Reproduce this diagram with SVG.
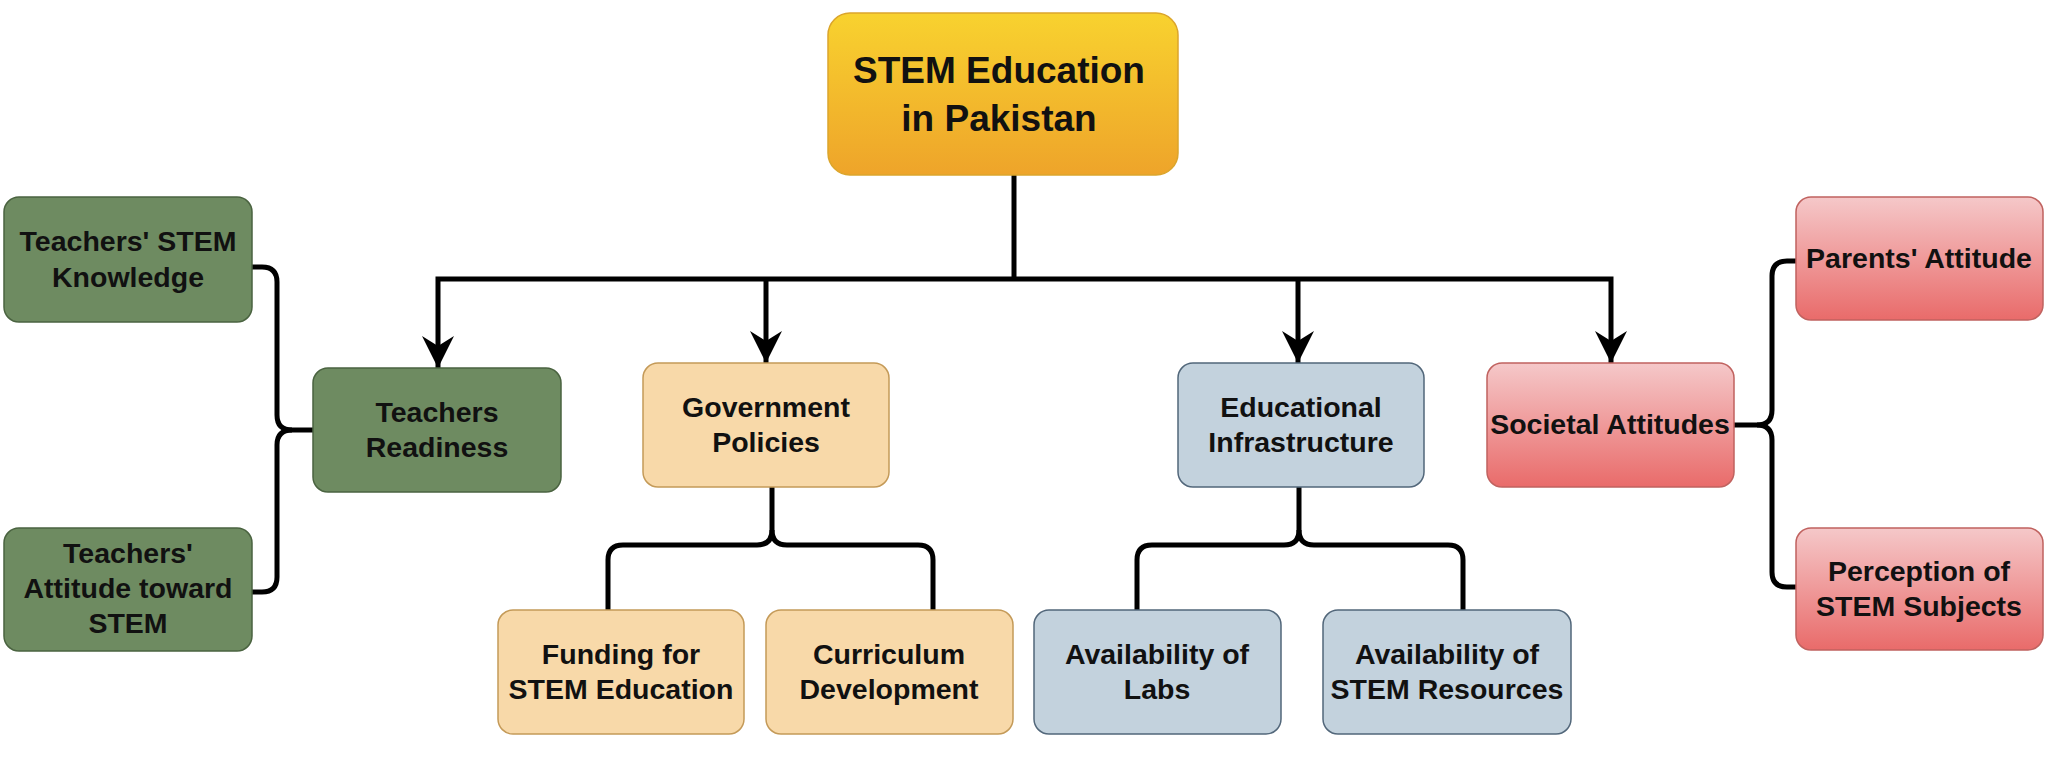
<svg xmlns="http://www.w3.org/2000/svg" width="2050" height="757" viewBox="0 0 2050 757">
<defs>
<linearGradient id="gYellow" x1="0" y1="0" x2="0" y2="1">
<stop offset="0" stop-color="#f8d22f"/>
<stop offset="1" stop-color="#eea42a"/>
</linearGradient>
<linearGradient id="gRed" x1="0" y1="0" x2="0" y2="1">
<stop offset="0" stop-color="#f5c8c9"/>
<stop offset="1" stop-color="#e96b6a"/>
</linearGradient>
<marker id="arr" markerUnits="userSpaceOnUse" markerWidth="36" markerHeight="36" viewBox="-34 -18 36 36" refX="0" refY="0" orient="auto">
<path d="M0 0 L-32 -16 L-22 0 L-32 16 Z" fill="#000"/>
</marker>
</defs>
<style>
.box{stroke-width:1.5}
.green{fill:#6e8b61;stroke:#4a6340}
.tan{fill:#f8d9a9;stroke:#c49a58}
.blue{fill:#c3d2dd;stroke:#52677a}
.red{fill:url(#gRed);stroke:#c0625f}
.yellow{fill:url(#gYellow);stroke:#dba52c}
text{font-family:"Liberation Sans",Arial,Helvetica,sans-serif;font-weight:bold;font-size:28.5px;fill:#111;text-anchor:middle}
.title{font-size:37px}
.con{fill:none;stroke:#000;stroke-width:5;stroke-linejoin:miter}
.brace{fill:none;stroke:#000;stroke-width:5;stroke-linecap:butt;stroke-linejoin:round}
</style>
<rect width="2050" height="757" fill="#fff"/>

<g id="connectors">
<path class="con" d="M1014 175 V279"/>
<path class="con" d="M1014 279 H438 V368" marker-end="url(#arr)"/>
<path class="con" d="M1014 279 H1611 V363" marker-end="url(#arr)"/>
<path class="con" d="M766 279 V363" marker-end="url(#arr)"/>
<path class="con" d="M1298 279 V363" marker-end="url(#arr)"/>
<path class="brace" d="M243 267 H262 Q277 267 277 282 V415 Q277 430 292 430 H313"/>
<path class="brace" d="M292 430 Q277 430 277 445 V577 Q277 592 262 592 H252"/>
<path class="brace" d="M1734 425 H1757 Q1772 425 1772 410 V276 Q1772 261 1787 261 H1796"/>
<path class="brace" d="M1757 425 Q1772 425 1772 440 V572 Q1772 587 1787 587 H1796"/>
<path class="brace" d="M772 487 V530 Q772 545 757 545 H623 Q608 545 608 560 V610"/>
<path class="brace" d="M772 530 Q772 545 787 545 H918 Q933 545 933 560 V610"/>
<path class="brace" d="M1299 487 V530 Q1299 545 1284 545 H1152 Q1137 545 1137 560 V610"/>
<path class="brace" d="M1299 530 Q1299 545 1314 545 H1448 Q1463 545 1463 560 V610"/>
</g>

<g id="stem-education">
<rect class="box yellow" x="828" y="13" width="350" height="162" rx="22"/>
<text class="title" x="999" y="83">STEM Education</text>
<text class="title" x="999" y="131">in Pakistan</text>
</g>

<g id="teachers-readiness">
<rect class="box green" x="313" y="368" width="248" height="124" rx="15"/>
<text x="437" y="422">Teachers</text>
<text x="437" y="457">Readiness</text>
</g>

<g id="government-policies">
<rect class="box tan" x="643" y="363" width="246" height="124" rx="15"/>
<text x="766" y="417">Government</text>
<text x="766" y="452">Policies</text>
</g>

<g id="educational-infrastructure">
<rect class="box blue" x="1178" y="363" width="246" height="124" rx="15"/>
<text x="1301" y="417">Educational</text>
<text x="1301" y="452">Infrastructure</text>
</g>

<g id="societal-attitudes">
<rect class="box red" x="1487" y="363" width="247" height="124" rx="15"/>
<text x="1610" y="434">Societal Attitudes</text>
</g>

<g id="teachers-stem-knowledge">
<rect class="box green" x="4" y="197" width="248" height="125" rx="15"/>
<text x="128" y="251">Teachers' STEM</text>
<text x="128" y="287">Knowledge</text>
</g>

<g id="teachers-attitude">
<rect class="box green" x="4" y="528" width="248" height="123" rx="15"/>
<text x="128" y="563">Teachers'</text>
<text x="128" y="598">Attitude toward</text>
<text x="128" y="633">STEM</text>
</g>

<g id="parents-attitude">
<rect class="box red" x="1796" y="197" width="247" height="123" rx="15"/>
<text x="1919" y="268">Parents' Attitude</text>
</g>

<g id="perception-stem">
<rect class="box red" x="1796" y="528" width="247" height="122" rx="15"/>
<text x="1919" y="581">Perception of</text>
<text x="1919" y="616">STEM Subjects</text>
</g>

<g id="funding">
<rect class="box tan" x="498" y="610" width="246" height="124" rx="15"/>
<text x="621" y="664">Funding for</text>
<text x="621" y="699">STEM Education</text>
</g>

<g id="curriculum">
<rect class="box tan" x="766" y="610" width="247" height="124" rx="15"/>
<text x="889" y="664">Curriculum</text>
<text x="889" y="699">Development</text>
</g>

<g id="labs">
<rect class="box blue" x="1034" y="610" width="247" height="124" rx="15"/>
<text x="1157" y="664">Availability of</text>
<text x="1157" y="699">Labs</text>
</g>

<g id="resources">
<rect class="box blue" x="1323" y="610" width="248" height="124" rx="15"/>
<text x="1447" y="664">Availability of</text>
<text x="1447" y="699">STEM Resources</text>
</g>
</svg>
